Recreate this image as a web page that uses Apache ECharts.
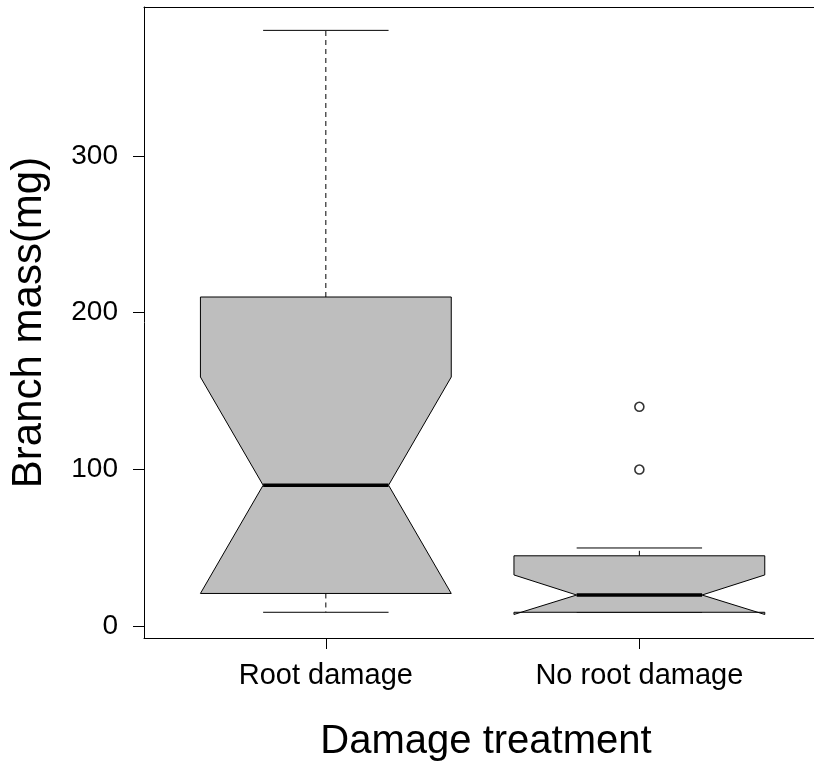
<!DOCTYPE html>
<html><head><meta charset="utf-8">
<script src="https://cdn.jsdelivr.net/npm/echarts@6/dist/echarts.min.js"></script>
<style>html,body{margin:0;padding:0;background:#fff}#c{width:814px;height:768px}</style>
</head><body><div id="c"></div>
<script>
// ---- data ----
const categories   = ['Root damage', 'No root damage'];
const lowerWhisker = [9, 9];
const q1           = [21, 9];
const notchLow     = [21, 7.6];
const median       = [90, 20];
const notchHigh    = [159, 32.8];
const q3           = [210, 45];
const upperWhisker = [380, 50];
const outlierGroup = [2, 2];        // 1-based category position
const outlierValue = [140, 100];
const yTicks       = [0, 100, 200, 300];
const xTicks       = [1, 2];

const FONT = 'Liberation Sans, Arial, Helvetica, sans-serif';

const boxData = categories.map((c, i) => [i + 1, lowerWhisker[i], q1[i], notchLow[i], median[i], notchHigh[i], q3[i], upperWhisker[i]]);
const outlierData = outlierGroup.map((g, i) => [g, outlierValue[i]]);

function renderItem(params, api) {
  const x = api.value(0);
  const lw = api.value(1), Q1 = api.value(2), nlo = api.value(3), med = api.value(4),
        nhi = api.value(5), Q3 = api.value(6), uw = api.value(7);
  const w = 0.4, nw = 0.2, sw = 0.2;
  const P = (xx, yy) => api.coord([xx, yy]);
  const solid = { stroke: '#000', lineWidth: 1, fill: null };
  const dashed = { stroke: '#000', lineWidth: 1, lineDash: [5, 4], fill: null };
  const seg = (a, b, style) => ({ type: 'line', shape: { x1: a[0], y1: a[1], x2: b[0], y2: b[1] }, style: style });
  const children = [];
  children.push(seg(P(x, Q3), P(x, uw), dashed));
  children.push(seg(P(x, Q1), P(x, lw), dashed));
  children.push(seg(P(x - sw, uw), P(x + sw, uw), solid));
  children.push(seg(P(x - sw, lw), P(x + sw, lw), solid));
  const pts = [P(x - w, Q1), P(x + w, Q1), P(x + w, nlo), P(x + nw, med), P(x + w, nhi),
               P(x + w, Q3), P(x - w, Q3), P(x - w, nhi), P(x - nw, med), P(x - w, nlo)];
  children.push({ type: 'polygon', shape: { points: pts }, style: { fill: '#bebebe', stroke: '#000', lineWidth: 1 } });
  children.push(seg(P(x - nw, med), P(x + nw, med), { stroke: '#000', lineWidth: 3.5 }));
  return { type: 'group', children: children };
}

const XMIN = 0.42, XMAX = 2.557;
const frameLine = { show: true, onZero: false, lineStyle: { color: '#000', width: 1 } };

const chart = echarts.init(document.getElementById('c'), null, { renderer: 'canvas' });
chart.setOption({
  animation: false,
  backgroundColor: '#fff',
  grid: { left: 144, top: 7, right: 0, bottom: 130, show: false },
  xAxis: [{
    type: 'value', min: XMIN, max: XMAX, position: 'bottom',
    axisLine: frameLine, splitLine: { show: false },
    axisTick: { show: true, customValues: xTicks, length: 11, lineStyle: { color: '#000', width: 1 } },
    axisLabel: { customValues: xTicks, formatter: v => categories[Math.round(v) - 1] || '', fontSize: 29, color: '#000', margin: 23, fontFamily: FONT },
    name: 'Damage treatment', nameLocation: 'middle', nameGap: 84,
    nameTextStyle: { fontSize: 40, color: '#000', fontFamily: FONT, padding: [0, 0, 0, 14] }
  }, {
    type: 'value', min: XMIN, max: XMAX, position: 'top',
    axisLine: frameLine, splitLine: { show: false }, axisTick: { show: false }, axisLabel: { show: false }
  }],
  yAxis: {
    type: 'value', min: -7.4, max: 394.9,
    axisLine: frameLine, splitLine: { show: false },
    axisTick: { show: true, customValues: yTicks, length: 11, lineStyle: { color: '#000', width: 1 } },
    axisLabel: { customValues: yTicks, fontSize: 28, color: '#000', margin: 26, fontFamily: FONT },
    name: 'Branch mass(mg)', nameLocation: 'middle', nameGap: 94, nameRotate: 90,
    nameTextStyle: { fontSize: 42, color: '#000', fontFamily: FONT }
  },
  series: [
    { type: 'custom', renderItem: renderItem, data: boxData, xAxisIndex: 0, encode: { x: 0, y: [1, 2, 3, 4, 5, 6, 7] }, z: 2 },
    { type: 'scatter', data: outlierData, xAxisIndex: 0, symbol: 'circle', symbolSize: 9,
      itemStyle: { color: '#fff', borderColor: '#000', borderWidth: 1.6 }, z: 3 }
  ]
});
</script>
</body></html>
